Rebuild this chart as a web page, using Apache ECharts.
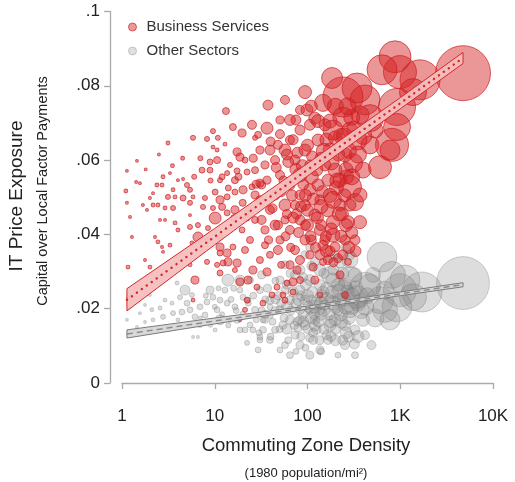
<!DOCTYPE html>
<html>
<head>
<meta charset="utf-8">
<script src="https://cdn.jsdelivr.net/npm/echarts@6/dist/echarts.min.js"></script>
<style>html,body{margin:0;padding:0;background:#fff;}#chart{width:515px;height:482px;}</style>
</head>
<body>
<div id="chart"></div>
<script>
// ---- Data: [commuting zone density (1980 pop/mi^2), IT price exposure, population (millions)] ----
const bizPoints = [
  [4750,0.0834,17.9],[1633,0.0816,9.47],[993,0.0837,6.44],[878,0.0878,6.06],[923,0.0743,8.1],
  [815,0.0641,6.44],[636,0.0843,5.33],[605,0.0581,3.13],[417,0.0762,5.33],[342,0.0794,5.33],
  [241,0.077,9.47],[472,0.0713,4.31],[923,0.0689,4.31],[1372,0.0783,4.31],[287,0.0528,3.13],
  [184,0.0821,2.6],[310,0.0592,2.14],[188,0.0493,1.71],[342,0.0654,2.37],[397,0.0573,1.5],
  [775,0.0627,2.37],[188,0.0681,2.37],[147,0.0754,1.71],[241,0.0716,2.37],[94,0.0783,1.0],
  [98.8,0.0735,0.85],[120,0.0713,0.85],[325,0.0487,1.71],[368,0.0433,1.0],[188,0.0433,1.0],
  [188,0.0398,1.16],[273,0.0433,1.0],[198,0.0366,0.59],[147,0.0371,0.59],[136,0.0345,0.59],
  [115,0.0312,0.38],[273,0.0326,0.29],[147,0.0326,0.29],[77.1,0.0304,0.38],[224,0.0546,1.16],
  [254,0.0614,1.16],[154,0.0587,0.85],[175,0.0627,1.16],[83,0.0681,0.59],[64.7,0.0654,0.48],
  [50.5,0.0708,0.38],[57.2,0.0627,0.85],[73.3,0.06,0.59],[94,0.0627,0.85],[106,0.0587,0.59],
  [130,0.0654,0.85],[83,0.056,1.16],[64.7,0.0533,0.59],[50.5,0.056,0.48],[44.7,0.0506,0.59],
  [57.2,0.0479,0.85],[83,0.0506,0.59],[106,0.052,0.85],[136,0.0493,0.59],[120,0.0452,0.85],
  [83,0.0439,0.59],[64.7,0.0412,0.48],[94,0.0385,0.59],[136,0.0412,0.7],[50.5,0.0385,0.38],
  [73.3,0.0358,0.48],[106,0.0345,0.38],[39.4,0.0345,0.29],[34.8,0.0412,0.38],[39.4,0.0466,0.48],
  [30.7,0.0493,0.38],[27.2,0.0439,0.29],[24,0.0385,0.29],[32,0.0533,0.38],[44.7,0.06,0.48],
  [34.8,0.0587,0.38],[27.2,0.0573,0.29],[57.2,0.0762,0.48],[75,0.0708,0.59],[106,0.0695,0.7],
  [154,0.0695,0.85],[166,0.0546,0.85],[224,0.0479,0.85],[166,0.0331,0.48],[224,0.0291,0.38],
  [83,0.0277,0.29],[120,0.0277,0.38],[136,0.0237,0.21],[213,0.0336,0.48],[254,0.0385,0.59],
  [325,0.0385,0.59],[287,0.0479,0.85],[368,0.0506,1.16],[254,0.0237,0.29],[472,0.0641,1.92],
  [535,0.0681,1.5],[287,0.0681,1.5],[368,0.0722,1.92],
  [37.5,0.0748,0.59],[13.2,0.0732,0.29],[25.2,0.0695,0.48],[36.6,0.0686,0.85],[50.5,0.067,0.48],
  [15.7,0.0689,0.29],[19.7,0.0673,0.38],[5.83,0.066,0.15],[3.13,0.0646,0.09],[8.25,0.0657,0.15],
  [9.57,0.0678,0.15],[10.8,0.066,0.15],[12.9,0.0643,0.09],[17.4,0.0622,0.38],[9.57,0.0635,0.09],
  [10.6,0.0627,0.09],[27.2,0.066,0.15],[30.7,0.0627,0.38],[39.4,0.0627,0.59],[18.7,0.0608,0.38],
  [21.2,0.06,0.21],[10.6,0.06,0.29],[14.6,0.0587,0.15],[1.45,0.0598,0.05],[1.13,0.0571,0.05],
  [1.42,0.0541,0.05],[1.56,0.0538,0.05],[1.10,0.0517,0.09],[8.89,0.0595,0.21],[7.29,0.0573,0.21],
  [8.89,0.0573,0.21],[17.4,0.0571,0.21],[22.3,0.0568,0.21],[13.6,0.0565,0.15],[11.4,0.0546,0.15],
  [16.5,0.0546,0.29],[3.29,0.0565,0.05],[2.77,0.0555,0.09],[2.38,0.0533,0.09],[2.70,0.0533,0.09],
  [4.01,0.0546,0.05],[4.55,0.0549,0.05],[5.02,0.0533,0.15],[5.41,0.052,0.15],[3.55,0.052,0.09],
  [3.13,0.0501,0.15],[3.73,0.0501,0.09],[4.55,0.0498,0.21],[5.83,0.0501,0.09],[7.85,0.0498,0.15],
  [10.1,0.0514,0.21],[11.4,0.0493,0.38],[13.6,0.0501,0.21],[16.5,0.0514,0.21],[20.2,0.052,0.38],
  [25.2,0.0528,0.21],[30.7,0.0538,0.38],[36.6,0.0546,0.38],[2.16,0.0511,0.05],[2.0,0.0498,0.05],
  [1.68,0.0479,0.05],[2.16,0.0479,0.09],[2.44,0.0479,0.09],[1.13,0.0485,0.05],[2.91,0.0471,0.09],
  [3.55,0.0471,0.15],[5.41,0.0485,0.15],[7.47,0.0474,0.15],[9.57,0.0471,0.15],[12.0,0.0474,0.29],
  [16.5,0.0466,0.38],[13.6,0.0458,0.21],[10.1,0.0444,0.85],[1.22,0.0447,0.05],[1.86,0.0466,0.05],
  [2.57,0.0439,0.05],[2.91,0.0439,0.05],[5.41,0.0452,0.05],[3.73,0.0431,0.09],[4.01,0.0412,0.09],
  [5.41,0.042,0.15],[6.59,0.0393,0.59],[6.59,0.0425,0.15],[8.46,0.0417,0.15],[1.28,0.0393,0.05],
  [2.27,0.0393,0.05],[2.44,0.038,0.09],[3.29,0.0371,0.09],[2.70,0.0366,0.05],[1.77,0.0331,0.05],
  [2.77,0.0353,0.05],[2.0,0.0312,0.09],[1.16,0.0312,0.09],[11.4,0.0393,0.21],[11.4,0.0366,0.38],
  [13.6,0.035,0.38],[15.7,0.0366,0.21],[8.25,0.0385,0.15],[8.25,0.0326,0.15],[10.6,0.0318,0.15],
  [13.9,0.0326,0.38],[17.4,0.0323,0.38],[5.68,0.0377,0.09],[5.41,0.0318,0.09],[6.12,0.0277,0.38],
  [5.83,0.0223,0.09],[11.4,0.035,0.21],[12.3,0.0323,0.21],[18.7,0.0272,0.38],[22.8,0.0277,0.38],
  [28.5,0.0258,0.21],[22.3,0.0223,0.21],[21.2,0.0197,0.15],[33.1,0.0215,0.21],[41.4,0.0237,0.21],
  [46.9,0.0258,0.21],[60.1,0.0269,0.21],[69.8,0.0272,0.38],[54.4,0.0237,0.21],[57.2,0.0223,0.21],
  [69.8,0.0245,0.21],[18.7,0.017,0.09],[25.8,0.0304,0.38],[36.6,0.0299,0.38],[16.5,0.0304,0.15],
  [11.4,0.0296,0.21],[27.2,0.0506,0.38],[24,0.0466,0.38],[32,0.0439,0.48],[44.7,0.0425,0.59],
  [57.2,0.0439,0.38],[48,0.0358,0.48],[64.7,0.0318,0.38],[30.7,0.0331,0.29],[21.2,0.0358,0.29],
  [19.7,0.0412,0.21],[83,0.0331,0.48],[110,0.0385,0.59],[154,0.0385,0.59],[130,0.0533,0.85],
  [198,0.0573,1.16],[83,0.0735,0.48],[64.7,0.0708,0.7],[48,0.0641,0.48],[29.3,0.0668,0.29],
  [73.3,0.0479,0.48],[94,0.0479,0.7],[34.8,0.0371,0.29],[52,0.0318,0.29],
  [40,0.065,0.48],[46,0.058,0.59],[55,0.0545,0.48],[62,0.0595,0.7],[70,0.0655,0.59],
  [78,0.062,0.7],[88,0.0585,0.85],[100,0.064,0.85],[112,0.061,0.7],[125,0.0575,1.0],
  [140,0.0605,0.85],[160,0.0655,1.0],[175,0.0705,1.16],[200,0.066,1.16],[215,0.0615,1.0],
  [230,0.0665,1.33],[260,0.0575,1.16],[280,0.0625,1.33],[300,0.0715,1.5],[320,0.0685,1.33],
  [42,0.047,0.48],[52,0.0515,0.59],[60,0.0455,0.48],[68,0.0505,0.7],[76,0.0455,0.59],
  [90,0.0535,0.7],[100,0.0465,0.85],[115,0.0495,0.85],[128,0.0445,0.85],[145,0.0515,0.85],
  [165,0.0465,1.0],[180,0.0415,0.85],[205,0.0525,1.16],[235,0.0455,1.0],[250,0.0505,1.0],
  [265,0.0555,1.16],[38,0.0385,0.38],[48,0.0425,0.48],[58,0.0395,0.48],[66,0.0365,0.38],
  [80,0.0405,0.59],[95,0.0425,0.59],[108,0.0395,0.7],[122,0.0365,0.59],[140,0.0425,0.7],
  [158,0.0395,0.7],[175,0.0355,0.59],[190,0.0325,0.48],[240,0.0345,0.59],[300,0.0405,0.85],
  [330,0.0355,0.7],[18,0.0555,0.29],[20,0.0485,0.29],[22,0.0445,0.29],[26,0.0605,0.38],
  [28,0.0535,0.38],[14,0.0525,0.21],[16,0.0445,0.21],[12,0.0555,0.21],[9,0.0545,0.15],
  [7,0.0605,0.15],[6,0.0555,0.15],[4.5,0.0605,0.09],[3.5,0.0585,0.09],[2.5,0.0615,0.05],
  [1.8,0.0575,0.05],
  [110,0.0555,1.16],[150,0.0625,1.33],[180,0.0595,1.5],[210,0.0545,1.33],[250,0.0665,1.5],
  [140,0.0475,1.16],[175,0.0505,1.16],[220,0.0455,1.16],[260,0.0425,1.0],[300,0.0555,1.5],
  [350,0.0615,1.7],[400,0.0665,1.7],[95,0.0505,0.85],[75,0.0575,0.85],[60,0.0615,0.7],
  [130,0.0705,1.0],[110,0.0745,0.85],[200,0.0745,1.5],[270,0.0745,1.7],[70,0.0445,0.7],
  [85,0.0475,0.7],[100,0.0425,0.85],[160,0.0355,0.85],[230,0.0395,0.85],[280,0.0365,0.85]
];
const otherPoints = [
  [4750,0.0269,16.6],[1715,0.0245,9.47],[1125,0.0277,5.33],[815,0.0291,4.31],[923,0.0205,5.33],
  [417,0.0258,5.33],[287,0.0283,3.13],[175,0.0291,1.71],[342,0.0231,3.13],[605,0.0223,4.31],
  [1372,0.0231,4.31],[775,0.017,2.37],[636,0.0339,5.33],[241,0.025,2.37],[472,0.0264,2.87],
  [993,0.025,6.44],[685,0.0197,3.7],[535,0.0175,1.92],[287,0.0197,1.5],[368,0.0223,1.16],
  [224,0.0223,1.16],[198,0.017,0.85],[397,0.017,1.0],[325,0.0143,0.59],[166,0.0116,0.48],
  [254,0.0102,0.48],[136,0.0089,0.38],[106,0.0075,0.38],[175,0.0156,0.85],[188,0.0277,1.16],
  [147,0.0245,0.85],[136,0.0197,0.59],[110,0.0223,0.59],[83,0.0197,0.48],[94,0.0156,0.59],
  [106,0.0121,0.38],[73.3,0.0129,0.38],[57.2,0.0102,0.29],[64.7,0.017,0.48],[50.5,0.0197,0.38],
  [39.4,0.0223,0.38],[34.8,0.017,0.29],[44.7,0.0143,0.29],[57.2,0.025,0.38],[83,0.025,0.59],
  [106,0.0277,0.7],[136,0.0304,0.85],[73.3,0.0291,0.48],[50.5,0.0277,0.38],[30.7,0.025,0.29],
  [27.2,0.0197,0.29],[24,0.0156,0.21],[39.4,0.0116,0.29],[29.3,0.0089,0.21],[64.7,0.0075,0.29],
  [83,0.0102,0.38],[120,0.017,0.59],[154,0.021,0.59],[213,0.0197,0.7],[254,0.0156,0.7],
  [417,0.0129,0.48],[490,0.0102,0.48],[325,0.0075,0.29],[213,0.0075,0.21],[115,0.0116,0.48],
  [50.5,0.0089,0.21],[33.1,0.0143,0.29],[22.8,0.0223,0.21],[18.7,0.025,0.21],[24,0.0277,0.29],
  [32,0.0291,0.38],[64.7,0.0223,0.48],[94,0.0223,0.59],[39.4,0.0183,0.29],[54.4,0.0156,0.38],
  [79,0.0148,0.38],[125,0.0143,0.48],[160,0.0129,0.48],[30.7,0.0116,0.21],[21.2,0.0143,0.21],
  [83,0.017,0.48],[106,0.0197,0.48],[175,0.0223,0.7],[254,0.0264,1.0],[325,0.0291,1.16],
  [508,0.0291,1.33],[685,0.025,1.92],[136,0.0264,0.7],[83,0.0304,0.59],[57.2,0.0318,0.38],
  [120,0.0326,0.48],[224,0.0326,0.85],[287,0.0345,0.59],[175,0.0336,0.48],[94,0.0345,0.38],
  [106,0.0366,0.38],[287,0.0331,1.5],
  [1.13,0.017,0.05],[1.56,0.0188,0.05],[1.77,0.0164,0.05],[2.10,0.0197,0.09],[2.57,0.0202,0.09],
  [2.16,0.017,0.09],[2.77,0.0178,0.15],[3.46,0.0215,0.09],[3.55,0.0188,0.15],[4.43,0.0191,0.21],
  [5.02,0.0215,0.21],[4.78,0.025,0.59],[3.92,0.0269,0.09],[5.41,0.0197,0.21],[6.12,0.0178,0.21],
  [6.93,0.0205,0.21],[8.25,0.0218,0.21],[8.89,0.025,0.38],[9.57,0.0231,0.21],[10.6,0.0197,0.21],
  [11.4,0.017,0.59],[13.6,0.0215,0.21],[13.9,0.0277,0.85],[5.83,0.0124,0.05],[6.59,0.0124,0.05],
  [22.3,0.0108,0.15],[3.06,0.0151,0.05],[1.45,0.0151,0.05],[1.22,0.0205,0.05],[7.85,0.0183,0.21],
  [11.4,0.0223,0.21],[16.5,0.0205,0.21],[17.4,0.017,0.29],[20.2,0.0231,0.21],[18.7,0.0143,0.21],
  [25.8,0.0143,0.21],[30.7,0.0124,0.21],[33.1,0.017,0.21],[39.4,0.0205,0.21],[1.38,0.0231,0.05],
  [2.0,0.0237,0.05],[2.91,0.0223,0.09],[4.01,0.017,0.09],[2.44,0.0143,0.05],[6.93,0.0156,0.15],
  [10.1,0.0143,0.09],[14.6,0.017,0.15],[12.9,0.025,0.21],[18.7,0.0277,0.59],[4.22,0.0231,0.15],
  [5.68,0.0237,0.15],[1.77,0.021,0.05],[1.16,0.0231,0.05],
  [20,0.0185,0.21],[23,0.0215,0.21],[26,0.0235,0.29],[28,0.017,0.21],[32,0.0195,0.29],
  [35,0.0225,0.29],[37,0.0255,0.38],[42,0.0165,0.29],[45,0.0195,0.38],[48,0.0235,0.38],
  [52,0.0215,0.48],[56,0.0175,0.38],[60,0.0265,0.48],[66,0.0195,0.48],[70,0.0245,0.59],
  [75,0.0215,0.59],[78,0.0165,0.48],[86,0.0235,0.59],[90,0.0185,0.59],[96,0.0265,0.7],
  [102,0.0205,0.7],[112,0.0245,0.7],[118,0.0185,0.7],[125,0.0215,0.85],[132,0.0165,0.7],
  [142,0.0235,0.85],[150,0.0195,0.85],[160,0.0255,0.85],[170,0.0185,0.85],[185,0.0245,1.0],
  [200,0.0205,1.0],[215,0.0265,1.0],[230,0.0185,1.0],[250,0.0225,1.16],[270,0.0245,1.16],
  [300,0.0205,1.33],[330,0.0255,1.33],[380,0.0195,1.5],[440,0.0235,1.5],
  [30,0.0135,0.21],[40,0.0125,0.29],[50,0.0145,0.29],[62,0.0115,0.29],[72,0.0155,0.38],
  [85,0.0125,0.38],[100,0.0145,0.48],[115,0.0135,0.48],[135,0.0115,0.48],[150,0.0145,0.59],
  [180,0.0125,0.59],[200,0.0145,0.59],[240,0.0115,0.59],[280,0.0125,0.7],[320,0.0105,0.59],
  [95,0.0095,0.29],[140,0.0085,0.29],[75,0.0085,0.21],
  [45,0.0275,0.29],[65,0.0295,0.38],[90,0.0285,0.48],[110,0.0315,0.48],[150,0.0295,0.59],
  [190,0.0305,0.7],[240,0.0295,0.85],[200,0.0345,0.48],[260,0.0365,0.59],
  [10,0.0205,0.15],[12,0.0185,0.15],[15,0.0225,0.21],[17,0.0195,0.21],[8,0.0235,0.15],
  [7,0.0175,0.09],[9,0.0155,0.09],[14,0.0155,0.15],[11,0.0255,0.15],[16,0.0255,0.21],
  [60,0.0205,0.7],[80,0.0225,0.85],[100,0.0235,0.85],[120,0.0205,1.0],[140,0.0215,1.0],
  [160,0.0225,1.16],[190,0.0215,1.16],[220,0.0245,1.33],[260,0.0205,1.33],[300,0.0235,1.5],
  [350,0.0215,1.5],[420,0.0205,1.7],[90,0.0165,0.7],[110,0.0175,0.85],[140,0.0185,0.85],
  [180,0.0165,0.85],[230,0.0165,1.0],[280,0.0175,1.0],[60,0.0145,0.59],[120,0.0155,0.7],
  [200,0.0115,0.7],[260,0.0135,0.85],[350,0.0125,0.85],[45,0.0225,0.48],[35,0.0185,0.38]
];

// ---- Fitted lines and confidence bands ----
const fitX = [1.13, 10, 100, 1000, 4750];
const bizFit = [0.0224, 0.0394, 0.0574, 0.0753, 0.0875];
const bizLo = [0.0194, 0.0372, 0.0557, 0.0738, 0.0860];
const bizHi = [0.0254, 0.0416, 0.0591, 0.0768, 0.0890];
const otherFit = [0.0132, 0.0167, 0.0203, 0.0240, 0.0265];
const otherLo = [0.0121, 0.0159, 0.0199, 0.0235, 0.0259];
const otherHi = [0.0143, 0.0175, 0.0207, 0.0245, 0.0270];

// ---- Axis ticks and labels ----
const xTickValues = [1, 10, 100, 1000, 10000];
const xTickLabels = ['1', '10', '100', '1K', '10K'];
const yTickValues = [0, 0.02, 0.04, 0.06, 0.08, 0.1];
const yTickLabels = ['0', '.02', '.04', '.06', '.08', '.1'];
const seriesNames = ['Business Services', 'Other Sectors'];

const FONT = 'Liberation Sans';
const chart = echarts.init(document.getElementById('chart'), null, {renderer: 'canvas'});

function sizeOf(v) { return Math.max(2.2, 13 * Math.sqrt(v[2])); }

function bandSeries(xs, lo, hi, fill, stroke) {
  return {
    type: 'custom',
    silent: true,
    z: 5,
    data: xs.map((x, i) => [x, lo[i], hi[i]]),
    renderItem: function (params, api) {
      if (params.dataIndex !== 0) return null;
      const pts = [];
      for (let i = 0; i < xs.length; i++) pts.push(api.coord([xs[i], lo[i]]));
      for (let i = xs.length - 1; i >= 0; i--) pts.push(api.coord([xs[i], hi[i]]));
      return {
        type: 'polygon',
        shape: {points: pts},
        style: {fill: fill, stroke: stroke, lineWidth: 1}
      };
    }
  };
}

const option = {
  animation: false,
  textStyle: {fontFamily: FONT},
  grid: {left: 122, right: 22, top: 11.5, bottom: 99, containLabel: false},
  legend: {
    orient: 'vertical',
    left: 123,
    top: 13,
    itemWidth: 8,
    itemHeight: 8,
    itemGap: 6,
    icon: 'circle',
    selectedMode: false,
    textStyle: {fontFamily: FONT, fontSize: 15, color: '#333', lineHeight: 18, padding: [0, 0, 0, 5]},
    data: [
      {name: seriesNames[0], itemStyle: {color: 'rgba(214,39,40,0.6)', borderColor: 'rgba(200,30,35,0.8)', borderWidth: 1}},
      {name: seriesNames[1], itemStyle: {color: 'rgba(200,200,200,0.7)', borderColor: 'rgba(170,170,170,0.8)', borderWidth: 1}}
    ]
  },
  xAxis: {
    type: 'log',
    logBase: 10,
    min: xTickValues[0],
    max: xTickValues[xTickValues.length - 1],
    offset: 12,
    axisLine: {show: true, lineStyle: {color: '#aaa', width: 1.3}},
    axisTick: {show: true, length: 6, lineStyle: {color: '#aaa', width: 1.3}},
    minorTick: {show: false},
    splitLine: {show: false},
    axisLabel: {
      fontFamily: FONT, fontSize: 17, color: '#222', margin: 13,
      formatter: function (v) {
        const i = xTickValues.findIndex(t => Math.abs(t - v) < 1e-6 * t);
        return i >= 0 ? xTickLabels[i] : '';
      }
    }
  },
  yAxis: {
    type: 'value',
    min: yTickValues[0],
    max: yTickValues[yTickValues.length - 1],
    interval: 0.02,
    offset: 12,
    axisLine: {show: true, lineStyle: {color: '#aaa', width: 1.3}},
    axisTick: {show: true, length: 6, lineStyle: {color: '#aaa', width: 1.3}},
    splitLine: {show: false},
    axisLabel: {
      fontFamily: FONT, fontSize: 17, color: '#222', margin: 10,
      formatter: function (v) {
        const i = yTickValues.findIndex(t => Math.abs(t - v) < 1e-9);
        return i >= 0 ? yTickLabels[i] : '';
      }
    }
  },
  series: [
    {
      name: seriesNames[1],
      type: 'scatter',
      z: 2,
      large: false,
      data: otherPoints,
      symbolSize: sizeOf,
      itemStyle: {color: 'rgba(130,130,130,0.34)', borderColor: 'rgba(115,115,115,0.4)', borderWidth: 1}
    },
    {
      name: seriesNames[0],
      type: 'scatter',
      z: 3,
      large: false,
      data: bizPoints,
      symbolSize: sizeOf,
      itemStyle: {color: 'rgba(214,36,38,0.6)', borderColor: 'rgba(205,28,32,0.85)', borderWidth: 1}
    },
    bandSeries(fitX, otherLo, otherHi, 'rgba(215,215,215,0.95)', '#7a7a7a'),
    bandSeries(fitX, bizLo, bizHi, 'rgba(244,190,190,0.95)', '#d62728'),
    {
      type: 'line', z: 6, silent: true, showSymbol: false,
      data: fitX.map((x, i) => [x, otherFit[i]]),
      lineStyle: {color: '#8a8a8a', width: 1.4, type: [6, 4]}
    },
    {
      type: 'line', z: 6, silent: true, showSymbol: false,
      data: fitX.map((x, i) => [x, bizFit[i]]),
      lineStyle: {color: '#d62728', width: 2.4, type: [0.1, 6], cap: 'round'}
    }
  ],
  graphic: [
    {type: 'text', x: 17, y: 196, rotation: Math.PI / 2,
     style: {text: 'IT Price Exposure', fontFamily: FONT, fontSize: 19, fill: '#222', align: 'center', verticalAlign: 'middle'}},
    {type: 'text', x: 43, y: 191, rotation: Math.PI / 2,
     style: {text: 'Capital over Local Factor Payments', fontFamily: FONT, fontSize: 14.5, fill: '#222', align: 'center', verticalAlign: 'middle'}},
    {type: 'text', x: 306, y: 446,
     style: {text: 'Commuting Zone Density', fontFamily: FONT, fontSize: 18.5, fill: '#222', align: 'center', verticalAlign: 'middle'}},
    {type: 'text', x: 306, y: 473,
     style: {text: '(1980 population/mi\u00B2)', fontFamily: FONT, fontSize: 13, fill: '#222', align: 'center', verticalAlign: 'middle'}}
  ]
};
chart.setOption(option);
</script>
</body>
</html>
